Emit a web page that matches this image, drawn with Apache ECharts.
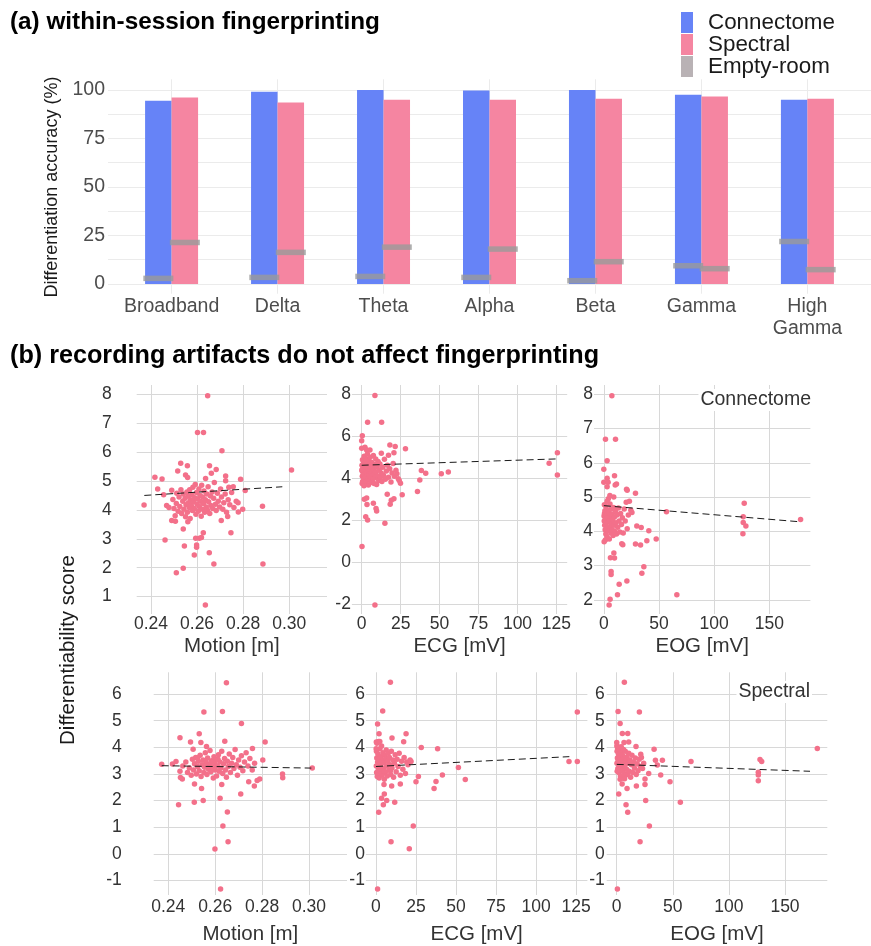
<!DOCTYPE html>
<html><head><meta charset="utf-8">
<script src="https://cdn.jsdelivr.net/npm/echarts@6/dist/echarts.min.js"></script>
<style>html,body{margin:0;padding:0;background:#fff}#c{width:871px;height:946px}</style>
</head><body><div id="c"></div>
<script>
// ---------- (a) within-session fingerprinting ----------
const bandNames = ['Broadband', 'Delta', 'Theta', 'Alpha', 'Beta', 'Gamma', 'High\nGamma'];
const bandPos = [1, 2, 3, 4, 5, 6, 7];
const connectomeAcc = [94.5, 99.1, 100, 99.7, 100, 97.6, 95.0];
const spectralAcc = [96.1, 93.5, 95.0, 95.0, 95.5, 96.6, 95.5];
const emptyRoomConn = [2.9, 3.4, 3.9, 3.4, 1.7, 9.4, 21.9];
const emptyRoomSpec = [21.4, 16.3, 19.0, 18.0, 11.5, 7.9, 7.4];

// ---------- (b) artifacts vs differentiability ----------
const motionConn = [
 [0.2646,7.95],[0.2602,6.68],[0.2628,6.68],[0.2708,6.05],[0.2529,5.61],[0.2558,5.53],[0.2654,5.53],
 [0.2516,5.35],[0.2683,5.40],[0.2662,5.27],[0.2417,5.13],[0.2448,5.07],[0.2550,5.21],[0.2559,5.12],
 [0.2637,5.09],[0.2724,5.17],[0.2789,5.06],[0.2724,5.01],[0.3010,5.38],[0.2429,4.72],[0.2809,4.67],
 [0.2757,4.80],[0.2738,4.78],[0.2370,4.17],[0.2884,4.13],[0.2798,4.02],[0.2779,3.93],[0.2490,3.63],
 [0.2506,3.61],[0.2560,3.59],[0.2705,3.63],[0.2733,3.77],[0.2540,3.34],[0.2747,3.21],[0.2627,3.21],
 [0.2461,2.96],[0.2594,3.02],[0.2610,3.02],[0.2619,3.05],[0.2545,2.75],[0.2598,2.79],[0.2598,2.71],
 [0.2588,2.44],[0.2653,2.52],[0.2673,2.13],[0.2886,2.13],[0.2540,1.98],[0.2510,1.83],[0.2636,0.71],
 [0.2455,4.52],[0.2468,4.15],[0.2478,4.08],[0.2490,4.68],[0.2495,4.36],[0.2500,4.05],[0.2505,3.80],
 [0.2510,4.22],[0.2512,4.58],[0.2518,3.95],[0.2522,4.45],[0.2525,4.12],[0.2530,4.70],[0.2533,3.88],
 [0.2538,4.30],[0.2540,4.55],[0.2543,4.02],[0.2548,4.40],[0.2550,3.76],[0.2552,4.18],[0.2556,4.62],
 [0.2558,3.92],[0.2561,4.48],[0.2563,4.25],[0.2566,4.08],[0.2568,4.70],[0.2570,3.70],[0.2572,4.35],
 [0.2575,4.15],[0.2578,4.52],[0.2580,3.98],[0.2582,4.78],[0.2585,4.28],[0.2588,4.05],[0.2590,4.42],
 [0.2592,4.88],[0.2595,3.85],[0.2598,4.60],[0.2600,4.20],[0.2602,4.38],[0.2605,3.95],[0.2608,4.72],
 [0.2610,4.12],[0.2613,4.50],[0.2615,4.30],[0.2618,3.78],[0.2620,4.85],[0.2623,4.02],[0.2625,4.45],
 [0.2628,4.22],[0.2630,4.65],[0.2633,3.92],[0.2636,4.35],[0.2640,4.10],[0.2642,4.55],[0.2645,4.00],
 [0.2648,4.80],[0.2650,4.28],[0.2655,3.88],[0.2658,4.48],[0.2660,4.15],[0.2665,4.62],[0.2668,4.05],
 [0.2672,4.40],[0.2675,4.95],[0.2680,4.20],[0.2683,3.98],[0.2688,4.58],[0.2692,4.30],[0.2698,4.10],
 [0.2702,4.72],[0.2706,4.45],[0.2712,4.02],[0.2716,4.25],[0.2722,4.55],[0.2728,3.92],[0.2735,4.35],
 [0.2742,4.18],[0.2750,4.60],[0.2760,4.08],[0.2770,4.30],[0.2778,4.25]
];
const ecgConn = [
 [8.5,7.94],[3.8,6.67],[12.8,6.67],[0.4,6.03],[0,5.79],[18.1,5.59],[21.5,5.51],[28.1,5.40],
 [0,5.43],[2.1,5.48],[3.2,5.35],[5.3,5.35],[12.6,5.19],[17.2,5.10],[20.7,5.22],[120.3,4.71],
 [125.6,5.21],[125.6,4.16],[38.3,4.37],[41.1,4.24],[51.1,4.21],[55.6,4.30],[37.3,3.92],[35.8,3.37],
 [26.0,3.22],[22.6,4.22],[24.1,3.89],[24.9,3.76],[16.4,3.24],[19.0,2.95],[20.7,3.03],[18.3,2.76],
 [1.7,3.00],[3.2,3.06],[3.4,2.75],[7.5,2.81],[9.2,2.56],[9.6,2.44],[2.6,2.17],[3.8,2.02],
 [14.9,1.86],[0.2,0.75],[8.5,-2.03],
 [0.2,4.62],[0.3,4.35],[0.4,4.10],[0.5,4.88],[0.6,3.85],[0.8,4.50],[1.0,4.22],[1.1,4.70],[1.3,3.95],
 [1.4,4.42],[1.6,5.05],[1.8,4.15],[2.0,4.60],[2.2,3.72],[2.4,4.32],[2.5,4.95],[2.7,4.05],[2.9,4.52],
 [3.1,3.88],[3.3,4.72],[3.5,4.25],[3.7,5.15],[3.9,4.00],[4.1,4.45],[4.3,3.68],[4.5,4.82],[4.7,4.18],
 [4.9,4.60],[5.1,3.92],[5.3,4.35],[5.5,5.00],[5.7,4.08],[5.9,4.55],[6.1,3.80],[6.3,4.28],[6.5,4.75],
 [6.8,4.12],[7.0,4.48],[7.3,3.98],[7.5,5.08],[7.8,4.38],[8.0,3.75],[8.3,4.65],[8.5,4.20],[8.8,4.02],
 [9.0,4.92],[9.3,4.30],[9.6,3.70],[9.9,4.55],[10.2,4.10],[10.5,4.80],[10.9,3.90],[11.3,4.40],[11.7,4.68],
 [12.0,4.05],[12.5,4.25],[13.0,3.85],[13.5,4.52],[14.0,4.15],[14.6,4.90],[15.2,3.95],[15.8,4.35],
 [16.5,4.62],[17.2,4.05],[18.0,4.45],[18.8,3.82],[19.5,4.25],[20.2,4.70],[21.0,4.10],[22.0,4.38],
 [23.5,3.98],[0.1,4.40],[0.3,3.75],[1.5,3.65],[2.8,4.85]
];
const eogConn = [
 [7.3,7.96],[1.5,6.69],[10.6,6.69],[3.0,6.06],[0,5.81],[9.7,5.62],[0,5.43],[3.0,5.55],[3.9,5.43],
 [3.0,5.30],[11.5,5.38],[10.3,5.35],[20.6,5.23],[21.2,5.20],[28.7,5.11],[56.8,4.57],[127.3,4.82],
 [126.4,4.43],[126.4,4.26],[128.8,4.16],[126.1,3.93],[178.4,4.35],[29.9,4.16],[33.9,4.11],[40.8,4.02],
 [47.5,3.78],[39.0,3.73],[28.7,3.63],[33.3,3.60],[16.3,3.64],[17.2,3.61],[9.1,3.37],[6.0,3.23],
 [9.7,3.22],[6.6,2.83],[6.6,2.74],[36.3,2.97],[34.5,2.78],[13.9,2.46],[20.9,2.55],[12.4,2.15],
 [66.2,2.15],[5.7,2.02],[4.8,1.85],
 [0.2,4.45],[0.4,4.30],[0.6,4.52],[0.8,4.18],[1.0,4.60],[1.2,4.05],[1.5,4.38],[1.8,3.92],[2.0,4.72],
 [2.3,4.25],[2.6,4.48],[2.9,3.85],[3.2,4.62],[3.5,4.12],[3.8,4.40],[4.1,4.95],[4.4,4.02],[4.7,4.55],
 [5.0,3.78],[5.3,4.30],[5.6,4.80],[5.9,4.15],[6.2,4.45],[6.5,3.95],[6.8,4.65],[7.1,4.22],[7.4,4.50],
 [7.7,4.05],[8.0,4.35],[8.4,3.88],[8.8,4.70],[9.2,4.18],[9.6,4.42],[10.0,4.00],[10.5,4.58],[11.0,4.25],
 [11.5,3.92],[12.0,4.48],[12.6,4.12],[13.2,4.68],[13.8,4.30],[14.5,3.98],[15.2,4.52],[16.0,4.20],
 [16.8,4.40],[17.6,3.95],[18.5,4.65],[19.4,4.30],[20.3,4.85],[21.2,4.08],[22.2,4.48],[23.2,4.88],
 [24.5,4.62],[25.5,4.55],[0.3,3.70],[1.4,3.75],[3.0,4.88],[5.5,5.05],[9.0,5.00],[0.5,4.78]
];
const motionSpec = [
 [0.2648,6.43],[0.2552,5.33],[0.2631,5.35],[0.2712,4.90],[0.2450,4.36],[0.2532,4.51],[0.2813,4.20],
 [0.2641,4.23],[0.2495,4.20],[0.2539,4.18],[0.2759,3.96],[0.2506,3.93],[0.2563,4.03],[0.2803,3.52],
 [0.2372,3.36],[0.2418,3.37],[0.2433,3.47],[0.2887,3.00],[0.2888,2.86],[0.2790,2.81],[0.2779,2.75],
 [0.2767,2.55],[0.2743,2.71],[0.2452,2.87],[0.2460,2.81],[0.2512,2.62],[0.2628,2.60],[0.2542,2.45],
 [0.2709,2.25],[0.2621,2.09],[0.2444,1.84],[0.2511,1.94],[0.2549,2.00],[0.2652,1.57],[0.2633,1.04],
 [0.2655,0.45],[0.2599,0.18],[0.2623,-1.32],[0.3014,3.22],
 [0.2450,3.10],[0.2462,3.30],[0.2475,3.45],[0.2482,3.05],[0.2490,3.22],[0.2498,2.95],[0.2503,3.55],
 [0.2508,3.15],[0.2512,3.38],[0.2517,3.62],[0.2520,3.00],[0.2525,3.28],[0.2528,3.48],[0.2532,3.12],
 [0.2536,3.70],[0.2540,2.90],[0.2544,3.35],[0.2548,3.52],[0.2552,3.05],[0.2555,3.25],[0.2558,3.80],
 [0.2562,3.42],[0.2565,2.98],[0.2568,3.60],[0.2572,3.18],[0.2575,3.35],[0.2578,3.88],[0.2582,3.08],
 [0.2585,3.50],[0.2588,3.25],[0.2592,2.85],[0.2595,3.65],[0.2598,3.40],[0.2600,3.15],[0.2603,3.55],
 [0.2606,2.92],[0.2610,3.30],[0.2614,3.72],[0.2617,3.10],[0.2620,3.45],[0.2624,3.22],[0.2628,3.85],
 [0.2632,3.02],[0.2636,3.38],[0.2640,3.58],[0.2644,3.15],[0.2648,2.88],[0.2652,3.48],[0.2656,3.28],
 [0.2660,3.75],[0.2665,3.05],[0.2670,3.40],[0.2675,3.62],[0.2680,3.20],[0.2685,3.92],[0.2690,3.35],
 [0.2695,2.95],[0.2700,3.52],[0.2706,3.25],[0.2712,3.68],[0.2718,3.12],[0.2725,3.45],[0.2732,3.80],
 [0.2740,3.30],[0.2748,3.58],[0.2758,3.15],[0.2768,3.40],[0.2525,3.62],[0.2560,3.50],[0.2590,3.45],
 [0.2612,3.55]
];
const ecgSpec = [
 [9.0,6.45],[4.2,5.37],[125.8,5.33],[1.0,4.88],[1.9,4.51],[18.8,4.51],[10.0,4.35],[17.3,4.21],
 [28.3,3.99],[38.5,3.95],[120.6,3.47],[125.8,3.47],[51.5,3.24],[55.8,2.79],[41.5,2.96],[26.5,2.90],
 [37.5,2.72],[36.3,2.45],[25.0,2.71],[9.8,2.55],[15.2,2.62],[5.0,2.60],[5.2,2.25],[3.5,2.09],
 [11.7,1.94],[4.6,1.84],[6.7,2.00],[1.7,1.56],[23.3,1.04],[9.4,0.45],[20.8,0.19],[1.0,-1.32],
 [21.9,3.47],[21.3,3.52],
 [0.2,3.30],[0.3,3.85],[0.4,3.05],[0.5,3.60],[0.6,4.15],[0.8,2.90],[1.0,3.45],[1.2,3.75],[1.4,3.15],
 [1.6,4.22],[1.8,3.55],[2.0,2.85],[2.2,3.38],[2.5,3.95],[2.7,3.10],[3.0,3.65],[3.2,3.25],[3.5,4.05],
 [3.8,2.95],[4.0,3.50],[4.3,3.80],[4.6,3.20],[4.9,3.42],[5.2,2.80],[5.5,3.70],[5.8,3.05],[6.1,3.58],
 [6.4,3.90],[6.7,3.30],[7.0,2.92],[7.3,3.48],[7.6,3.78],[8.0,3.15],[8.4,3.62],[8.8,3.35],[9.2,2.98],
 [9.6,3.85],[10.0,3.22],[10.5,3.52],[11.0,2.88],[11.5,3.40],[12.0,3.72],[12.6,3.08],[13.2,3.55],
 [13.8,3.28],[14.5,3.78],[15.2,2.95],[16.0,3.48],[16.8,3.18],[17.6,3.62],[18.4,3.02],[19.2,3.45],
 [20.0,3.35],[0.1,3.95],[0.2,4.20],[1.3,4.20],[2.4,4.22],[3.4,3.00],[5.0,3.10],[9.0,3.12]
];
const eogSpec = [
 [6.8,6.45],[1.2,5.35],[20.2,5.33],[3.0,4.90],[5.0,4.52],[9.8,4.52],[0,4.18],[6.5,4.18],[10.7,4.20],
 [17.2,4.03],[21.4,3.74],[33.3,3.93],[178.8,3.96],[66.2,3.47],[40.7,3.51],[34.5,3.51],[36.2,3.34],
 [127.7,3.54],[129.2,3.47],[126.2,3.06],[126.2,2.96],[126.2,2.74],[39.2,2.96],[47.5,2.71],[28.5,3.02],
 [25.2,2.81],[25.2,2.60],[17.5,2.55],[9.2,2.45],[4.8,2.62],[1.8,2.25],[25.8,2.00],[56.7,1.94],
 [8.3,1.84],[9.8,1.56],[29.1,1.04],[20.8,0.45],[0.6,-1.32],
 [0.2,3.40],[0.3,3.85],[0.4,3.10],[0.6,3.60],[0.8,3.95],[1.0,3.20],[1.2,3.50],[1.5,3.75],[1.8,3.05],
 [2.1,3.38],[2.4,3.90],[2.7,3.15],[3.0,3.62],[3.3,2.92],[3.6,3.45],[3.9,3.80],[4.2,3.25],[4.5,3.55],
 [4.8,2.85],[5.1,3.70],[5.4,3.12],[5.7,3.42],[6.0,3.92],[6.4,3.02],[6.8,3.58],[7.2,3.30],[7.6,3.85],
 [8.0,2.95],[8.4,3.48],[8.8,3.18],[9.2,3.65],[9.7,3.00],[10.2,3.40],[10.7,3.78],[11.2,3.10],[11.8,3.52],
 [12.4,2.88],[13.0,3.35],[13.6,3.70],[14.3,3.05],[15.0,3.45],[15.8,3.22],[16.6,3.60],[17.4,2.98],
 [18.2,3.38],[19.0,3.12],[20.0,3.55],[21.0,3.28],[22.0,3.62],[23.0,3.20],[24.0,3.40],[0.1,4.05],
 [2.0,4.00],[4.0,4.02],[3.0,2.80],[7.0,2.82]
];
// linear-fit lines (endpoints)
const motionConnFit = [[0.2371, 4.50], [0.2970, 4.80]];
const ecgConnFit = [[0, 4.62], [124.6, 4.92]];
const eogConnFit = [[0, 4.75], [177.8, 4.28]];
const motionSpecFit = [[0.2372, 3.31], [0.3010, 3.22]];
const ecgSpecFit = [[0, 3.28], [120.8, 3.65]];
const eogSpecFit = [[0, 3.36], [172.3, 3.10]];

const axisNames = ['Motion [m]', 'ECG [mV]', 'EOG [mV]'];

// ---------- build chart ----------
const C_CONN = '#6683f7', C_SPEC = '#f585a1', C_EMPTY = '#9a9a9a', C_PT = '#f3708a';
const gridCol = '#d8d8d8', labCol = '#333333';

const panels = [
  {pts: motionConn, fit: motionConnFit, name: axisNames[0], left: 136.7, top: 385, w: 190.3, h: 229,
   xmin: 0.2338, xmax: 0.3164, xi: 0.02, ymin: 0.40, ymax: 8.32, yi: 1, lm: 25, xm: 1, ng: 22, fmt: v => v.toFixed(2)},
  {pts: ecgConn, fit: ecgConnFit, name: axisNames[1], left: 351.9, top: 385, w: 215.3, h: 229,
   xmin: -6.28, xmax: 131.9, xi: 25, ymin: -2.46, ymax: 8.44, yi: 2, lm: 1, xm: 1, ng: 22, fmt: v => String(v)},
  {pts: eogConn, fit: eogConnFit, name: axisNames[2], left: 594, top: 385, w: 216.4, h: 229,
   xmin: -8.9, xmax: 187.3, xi: 50, ymin: 1.59, ymax: 8.27, yi: 1, lm: 1, xm: 1, ng: 22, fmt: v => String(v)},
  {pts: motionSpec, fit: motionSpecFit, name: axisNames[0], left: 153.7, top: 672.3, w: 193.3, h: 224.7,
   xmin: 0.2338, xmax: 0.3162, xi: 0.02, ymin: -1.55, ymax: 6.82, yi: 1, lm: 32, xm: 3, ng: 29, fmt: v => v.toFixed(2)},
  {pts: ecgSpec, fit: ecgSpecFit, name: axisNames[1], left: 365.9, top: 672.3, w: 221.5, h: 224.7,
   xmin: -6.3, xmax: 132.1, xi: 25, ymin: -1.55, ymax: 6.82, yi: 1, lm: 1, xm: 3, ng: 29, fmt: v => String(v)},
  {pts: eogSpec, fit: eogSpecFit, name: axisNames[2], left: 606.7, top: 672.3, w: 220.6, h: 224.7,
   xmin: -8.94, xmax: 187.7, xi: 50, ymin: -1.55, ymax: 6.82, yi: 1, lm: 2, xm: 3, ng: 29, fmt: v => String(v)}
];

const grids = [{left: 108, top: 79.3, width: 768, height: 214.4}];
const xAxes = [{
  type: 'value', gridIndex: 0, min: 0.4, max: 7.6, minInterval: 1, maxInterval: 1,
  axisLine: {show: false}, axisTick: {show: false},
  axisLabel: {color: '#4d4d4d', fontSize: 19.5, fontFamily: 'Liberation Sans', margin: 2, lineHeight: 22,
    showMinLabel: false, showMaxLabel: false,
    formatter: v => { const i = Math.round(v) - 1; return (Math.abs(v - Math.round(v)) < 1e-6 && bandNames[i]) ? bandNames[i] : ''; }},
  splitLine: {show: true, showMinLine: false, showMaxLine: false, lineStyle: {color: '#ebebeb', width: 1}}
}];
const yAxes = [{
  type: 'value', gridIndex: 0, min: -5, max: 105.5, minInterval: 12.5, maxInterval: 12.5,
  axisLine: {show: false}, axisTick: {show: false},
  axisLabel: {color: '#4d4d4d', fontSize: 19.5, fontFamily: 'Liberation Sans', margin: 3,
    showMinLabel: false, showMaxLabel: false,
    formatter: v => (Math.abs(v % 25) < 1e-6 ? String(v) : '')},
  splitLine: {show: true, showMinLine: false, showMaxLine: false, lineStyle: {color: '#ebebeb', width: 1}}
}];
const series = [
  {type: 'bar', name: 'Connectome', xAxisIndex: 0, yAxisIndex: 0, barWidth: 26.5, barGap: '0%',
   itemStyle: {color: C_CONN}, data: bandPos.map((p, i) => [p, connectomeAcc[i]])},
  {type: 'bar', name: 'Spectral', xAxisIndex: 0, yAxisIndex: 0, barWidth: 26.5, barGap: '0%',
   itemStyle: {color: C_SPEC}, data: bandPos.map((p, i) => [p, spectralAcc[i]])},
  {type: 'scatter', name: 'Empty-room', xAxisIndex: 0, yAxisIndex: 0, symbol: 'rect', symbolSize: [30, 5.5],
   symbolOffset: [-13.25, 0], itemStyle: {color: C_EMPTY}, z: 5, data: bandPos.map((p, i) => [p, emptyRoomConn[i]])},
  {type: 'scatter', name: 'Empty-room', xAxisIndex: 0, yAxisIndex: 0, symbol: 'rect', symbolSize: [30, 5.5],
   symbolOffset: [13.25, 0], itemStyle: {color: C_EMPTY}, z: 5, data: bandPos.map((p, i) => [p, emptyRoomSpec[i]])}
];

panels.forEach((p, k) => {
  const gi = k + 1;
  grids.push({left: p.left, top: p.top, width: p.w, height: p.h});
  xAxes.push({
    type: 'value', gridIndex: gi, min: p.xmin, max: p.xmax, minInterval: p.xi, maxInterval: p.xi,
    name: p.name, nameLocation: 'middle', nameGap: p.ng,
    nameTextStyle: {color: labCol, fontSize: 20.5, fontFamily: 'Liberation Sans'},
    axisLine: {show: false}, axisTick: {show: false},
    axisLabel: {color: labCol, fontSize: 17.5, fontFamily: 'Liberation Sans', margin: p.xm,
      showMinLabel: false, showMaxLabel: false, formatter: p.fmt},
    splitLine: {show: true, showMinLine: false, showMaxLine: false, lineStyle: {color: gridCol, width: 1}}
  });
  yAxes.push({
    type: 'value', gridIndex: gi, min: p.ymin, max: p.ymax, minInterval: p.yi, maxInterval: p.yi,
    axisLine: {show: false}, axisTick: {show: false},
    axisLabel: {color: labCol, fontSize: 17.5, fontFamily: 'Liberation Sans', margin: p.lm,
      showMinLabel: false, showMaxLabel: false},
    splitLine: {show: true, showMinLine: false, showMaxLine: false, lineStyle: {color: gridCol, width: 1}}
  });
  series.push({type: 'scatter', name: 'pts' + k, xAxisIndex: gi, yAxisIndex: gi, symbolSize: 5.5,
    itemStyle: {color: C_PT, opacity: 1}, data: p.pts, z: 3});
  series.push({type: 'line', name: 'fit' + k, xAxisIndex: gi, yAxisIndex: gi, symbol: 'none', z: 4,
    lineStyle: {color: '#1a1a1a', width: 1, type: [7, 4]}, data: p.fit});
});

const chart = echarts.init(document.getElementById('c'), null, {renderer: 'canvas'});
chart.setOption({
  animation: false,
  backgroundColor: '#ffffff',
  grid: grids, xAxis: xAxes, yAxis: yAxes, series: series,
  legend: {
    orient: 'vertical', left: 676, top: 6.5, itemWidth: 12, itemHeight: 21, itemGap: 0, icon: 'rect',
    textStyle: {fontSize: 22.4, color: '#1a1a1a', fontFamily: 'Liberation Sans', lineHeight: 21, padding: [0, 0, 0, 10]},
    data: [
      {name: 'Connectome', itemStyle: {color: C_CONN}},
      {name: 'Spectral', itemStyle: {color: C_SPEC}},
      {name: 'Empty-room', itemStyle: {color: '#a89fa2'}}
    ]
  },
  graphic: [
    {type: 'text', x: 10, y: 22, style: {text: '(a) within-session fingerprinting', font: 'bold 24.3px "Liberation Sans"', fill: '#000', textVerticalAlign: 'middle'}},
    {type: 'text', x: 10, y: 356, style: {text: '(b) recording artifacts do not affect fingerprinting', font: 'bold 25.2px "Liberation Sans"', fill: '#000', textVerticalAlign: 'middle'}},
    {type: 'text', x: 52, y: 187, rotation: Math.PI / 2, style: {text: 'Differentiation accuracy (%)', font: '18px "Liberation Sans"', fill: '#1a1a1a', textAlign: 'center', textVerticalAlign: 'middle'}},
    {type: 'text', x: 68, y: 650, rotation: Math.PI / 2, style: {text: 'Differentiability score', font: '20.5px "Liberation Sans"', fill: '#1a1a1a', textAlign: 'center', textVerticalAlign: 'middle'}},
    {type: 'text', x: 813, y: 400, z: 50, style: {text: 'Connectome', font: '19.5px "Liberation Sans"', fill: labCol, textAlign: 'right', textVerticalAlign: 'middle', backgroundColor: '#ffffff', padding: [1, 2]}},
    {type: 'text', x: 812, y: 692, z: 50, style: {text: 'Spectral', font: '19.5px "Liberation Sans"', fill: labCol, textAlign: 'right', textVerticalAlign: 'middle', backgroundColor: '#ffffff', padding: [1, 2]}}
  ]
});
</script>
</body></html>
